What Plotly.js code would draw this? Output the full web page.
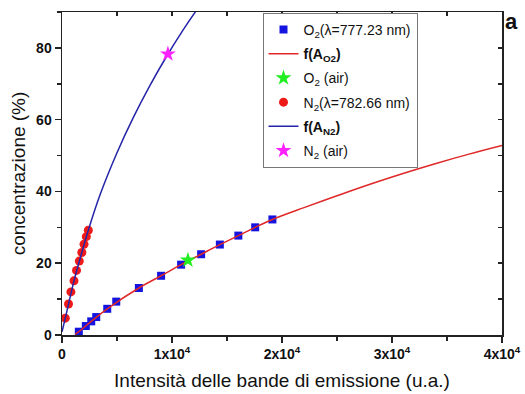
<!DOCTYPE html>
<html>
<head>
<meta charset="utf-8">
<script src="https://cdn.plot.ly/plotly-3.0.1.min.js"></script>
<style>html,body{margin:0;padding:0;background:#fff;}#chart{width:525px;height:394px;}</style>
</head>
<body>
<div id="chart"></div>
<script>
// O2 (λ=777.23 nm) data
const o2X = [1529, 2166, 2657, 3112, 4113, 4932, 6988, 9008, 10828, 12648, 14350, 16033, 17561, 19127];
const o2Y = [0.92, 2.5, 3.8, 5.0, 7.3, 9.3, 13.1, 16.5, 19.6, 22.5, 25.2, 27.7, 30.0, 32.2];
// fit f(A_O2)
const fO2X = [1200, 1529, 2657, 4113, 6988, 9008, 10828, 12648, 14350, 16033, 17561, 19127, 22000, 25000, 28000, 31000, 34000, 37000, 40000];
const fO2Y = [0.2, 0.92, 3.8, 7.3, 13.1, 16.5, 19.6, 22.5, 25.2, 27.7, 30.0, 32.2, 35.5, 38.8, 42.0, 45.0, 47.8, 50.4, 52.8];
// O2 (air)
const o2AirX = [11447];
const o2AirY = [20.85];
// N2 (λ=782.66 nm) data
const n2X = [300, 591, 810, 1092, 1319, 1574, 1802, 2002, 2211, 2393];
const n2Y = [4.7, 8.65, 12.0, 15.1, 18.0, 20.6, 23.0, 25.3, 27.4, 29.2];
// fit f(A_N2)
const fN2X = [0, 300, 1092, 1802, 2393, 3500, 5000, 6500, 8000, 9500, 11000, 12500];
const fN2Y = [0.9, 4.7, 15.1, 23.0, 29.2, 39.4, 50.8, 60.7, 69.55, 77.6, 84.95, 91.7];
// N2 (air)
const n2AirX = [9627];
const n2AirY = [78.3];
// axis ticks
const xTickVals = [0, 10000, 20000, 30000, 40000];
const xTickText = ['0', '1x10<sup>4</sup>', '2x10<sup>4</sup>', '3x10<sup>4</sup>', '4x10<sup>4</sup>'];
const xMinorVals = [5000, 15000, 25000, 35000];
const yTickVals = [0, 20, 40, 60, 80];
const yMinorVals = [10, 30, 50, 70, 90];

const FONT = 'Liberation Sans, Arial, sans-serif';

const traces = [
  {x: o2X, y: o2Y, type: 'scatter', mode: 'markers', name: 'O<sub>2</sub>(λ=777.23 nm)',
   marker: {symbol: 'square', size: 8, color: '#1414e0'}, legendgroup: 'g1'},
  {x: fO2X, y: fO2Y, type: 'scatter', mode: 'lines', name: '<b>f(A<sub>O2</sub>)</b>',
   line: {color: '#e02828', width: 1.5, shape: 'spline'}, legendgroup: 'g2'},
  {x: o2AirX, y: o2AirY, type: 'scatter', mode: 'markers', name: 'O<sub>2</sub> (air)',
   marker: {symbol: 'star', size: 12, color: '#22ee22'}, legendgroup: 'g3'},
  {x: n2X, y: n2Y, type: 'scatter', mode: 'markers', name: 'N<sub>2</sub>(λ=782.66 nm)',
   marker: {symbol: 'circle', size: 9, color: '#ee1a1a'}, legendgroup: 'g4'},
  {x: fN2X, y: fN2Y, type: 'scatter', mode: 'lines', name: '<b>f(A<sub>N2</sub>)</b>',
   line: {color: '#2424a8', width: 1.5, shape: 'spline'}, legendgroup: 'g5'},
  {x: n2AirX, y: n2AirY, type: 'scatter', mode: 'markers', name: 'N<sub>2</sub> (air)',
   marker: {symbol: 'star', size: 12, color: '#ff22ff'}, legendgroup: 'g6'},
  {x: [null], y: [null], xaxis: 'x2', yaxis: 'y2', type: 'scatter', mode: 'markers',
   showlegend: false, hoverinfo: 'skip'}
];

const layout = {
  width: 525, height: 394,
  margin: {l: 62, r: 23, t: 12, b: 59, pad: 0},
  paper_bgcolor: '#fff', plot_bgcolor: '#fff',
  font: {family: FONT, color: '#111'},
  showlegend: true,
  legend: {
    x: 0.4557, y: 0.997, xanchor: 'left', yanchor: 'top',
    bgcolor: '#fff', bordercolor: '#777', borderwidth: 1,
    font: {family: FONT, size: 14, color: '#111'},
    traceorder: 'grouped', tracegroupgap: 3,
    itemwidth: 30
  },
  xaxis: {
    range: [0, 40000], showgrid: false, zeroline: false,
    showline: true, linecolor: '#222', linewidth: 1.5,
    ticks: 'outside', ticklen: 6, tickwidth: 1.5, tickcolor: '#222',
    tickmode: 'array', tickvals: xTickVals, ticktext: xTickText,
    tickfont: {family: FONT, size: 14, color: '#111', weight: 'bold'},
    minor: {ticks: 'outside', ticklen: 4, tickwidth: 1.5, tickcolor: '#222', tickmode: 'array', tickvals: xMinorVals, showgrid: false},
    title: {text: 'Intensità delle bande di emissione (u.a.)', font: {family: FONT, size: 19, color: '#111'}, standoff: 12}
  },
  yaxis: {
    range: [0, 90], showgrid: false, zeroline: false,
    showline: true, linecolor: '#222', linewidth: 1.5,
    ticks: 'outside', ticklen: 6, tickwidth: 1.5, tickcolor: '#222',
    tickmode: 'array', tickvals: yTickVals,
    tickfont: {family: FONT, size: 14, color: '#111', weight: 'bold'},
    minor: {ticks: 'outside', ticklen: 4, tickwidth: 1.5, tickcolor: '#222', tickmode: 'array', tickvals: yMinorVals, showgrid: false},
    title: {text: 'concentrazione (%)', font: {family: FONT, size: 19, color: '#111'}, standoff: 5}
  },
  xaxis2: {
    overlaying: 'x', side: 'top', anchor: 'y2', range: [0, 40000],
    showgrid: false, zeroline: false, showline: true, linecolor: '#222', linewidth: 1.5,
    ticks: 'inside', ticklen: 4, tickwidth: 1.5, tickcolor: '#222',
    tickmode: 'array', tickvals: [0, 5000, 10000, 15000, 20000, 25000, 30000, 35000, 40000],
    showticklabels: false
  },
  yaxis2: {
    overlaying: 'y', side: 'right', anchor: 'x2', range: [0, 90],
    showgrid: false, zeroline: false, showline: true, linecolor: '#222', linewidth: 1.5,
    ticks: 'inside', ticklen: 4, tickwidth: 1.5, tickcolor: '#222',
    tickmode: 'array', tickvals: [0, 10, 20, 30, 40, 50, 60, 70, 80, 90],
    showticklabels: false
  },
  annotations: [
    {text: '<b>a</b>', xref: 'paper', yref: 'paper', x: 1.0227, y: 0.972, xanchor: 'center', yanchor: 'middle',
     showarrow: false, font: {family: FONT, size: 22, color: '#111'}}
  ]
};

Plotly.newPlot('chart', traces, layout, {displayModeBar: false, staticPlot: true});
</script>
</body>
</html>
